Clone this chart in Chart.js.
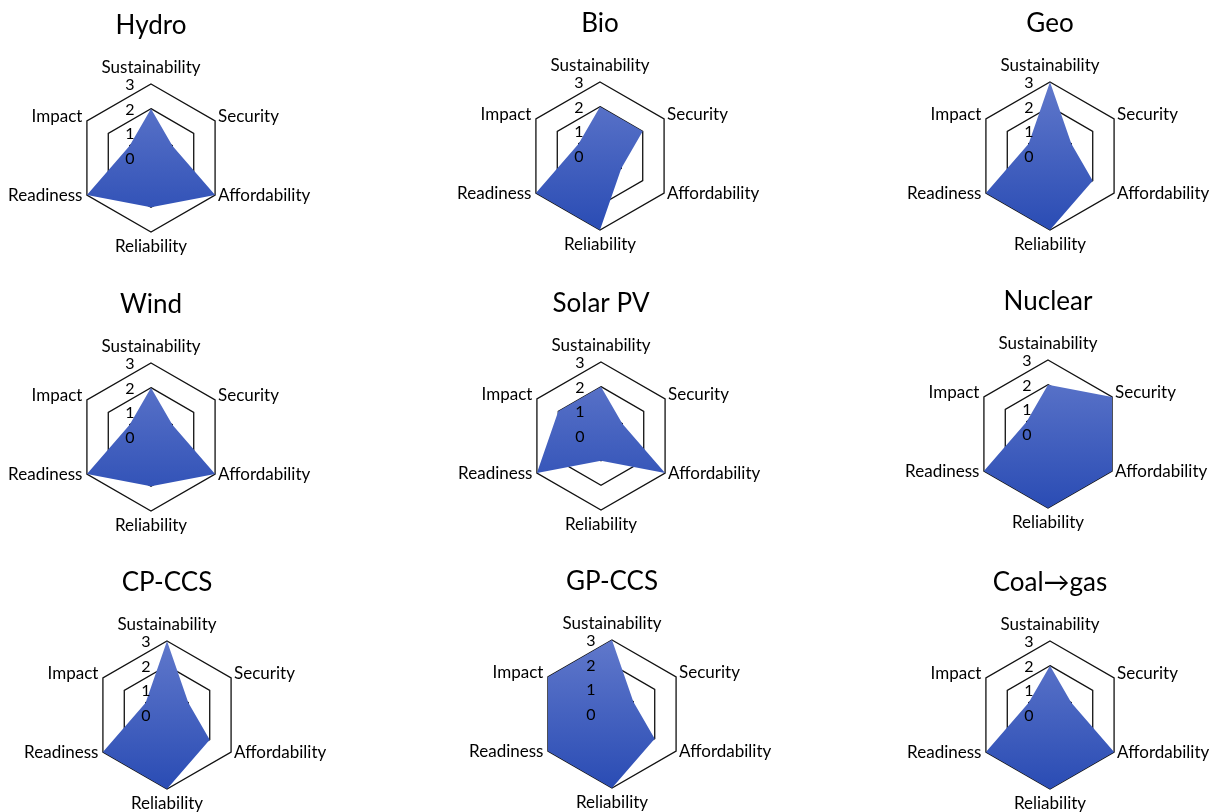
<!DOCTYPE html>
<html>
<head>
<meta charset="utf-8">
<title>Technology scorecards</title>
<script src="https://cdn.jsdelivr.net/npm/chart.js@4.4.1/dist/chart.umd.min.js"></script>
<style>
  html, body { margin: 0; padding: 0; background: #ffffff; }
  body { width: 1211px; height: 812px; position: relative; overflow: hidden; }
  canvas { position: absolute; }
</style>
</head>
<body>
<script>
// Scoring criteria, shared by every radar
const AXES = ['Sustainability', 'Security', 'Affordability', 'Reliability', 'Readiness', 'Impact'];
const TICK_VALUES = [0, 1, 2, 3];
const TICK_LABELS = ['0', '1', '2', '3'];

// Technologies and their scores (same order as AXES)
const TECHNOLOGIES = ['Hydro', 'Bio', 'Geo', 'Wind', 'Solar PV', 'Nuclear', 'CP-CCS', 'GP-CCS', 'Coal\u2192gas'];
const hydro    = [2, 1, 3, 2, 3, 1];
const bio      = [2, 2, 1, 3, 3, 1];
const geo      = [3, 1, 2, 3, 3, 1];
const wind     = [2, 1, 3, 2, 3, 1];
const solarPV  = [2, 1, 3, 1, 3, 2];
const nuclear  = [2, 3, 3, 3, 3, 1];
const cpCCS    = [3, 1, 2, 3, 3, 1];
const gpCCS    = [3, 1, 2, 3, 3, 3];
const coalToGas = [2, 1, 3, 3, 3, 1];
const SCORES = [hydro, bio, geo, wind, solarPV, nuclear, cpCCS, gpCCS, coalToGas];

// Page placement of each radar centre (3 x 3 grid)
const CENTERS = [
  [151, 158], [600, 156], [1050, 156],
  [151, 437], [601, 436], [1048, 434],
  [167, 715], [612, 714], [1050, 715]
];

const FONT = 'Lato, "Open Sans", "Noto Sans", sans-serif';
const CW = 380, CH = 262;      // canvas size
const OX = 190, OY = 150;      // radar centre inside the canvas
const R = 74;                  // radar radius

// Draws tick numbers left of the vertical axis and the criterion names
const labelPlugin = {
  id: 'radarLabels',
  afterDatasetsDraw(chart) {
    const s = chart.scales.r;
    const ctx = chart.ctx;
    ctx.save();
    ctx.fillStyle = '#000';
    ctx.font = '16px ' + FONT;
    ctx.textAlign = 'center';
    ctx.textBaseline = 'middle';
    TICK_VALUES.forEach((v, i) => {
      const d = s.getDistanceFromCenterForValue(v);
      ctx.fillText(TICK_LABELS[i], s.xCenter - 21, s.yCenter - d + 1);
    });
    ctx.font = '17px ' + FONT;
    ctx.textBaseline = 'alphabetic';
    AXES.forEach((name, i) => {
      const p = s.getPointPosition(i, s.drawingArea);
      let x = p.x, y = p.y;
      if (i === 0) { ctx.textAlign = 'center'; y -= 11; }
      else if (i === 1) { ctx.textAlign = 'left'; x += 3; y += 1; }
      else if (i === 2) { ctx.textAlign = 'left'; x += 3; y += 6; }
      else if (i === 3) { ctx.textAlign = 'center'; y += 20; }
      else if (i === 4) { ctx.textAlign = 'right'; x -= 4.5; y += 6; }
      else { ctx.textAlign = 'right'; x -= 4.5; y += 1; }
      ctx.fillText(name, x, y);
    });
    ctx.restore();
  }
};

function fillGradient(context) {
  const chart = context.chart;
  const s = chart.scales.r;
  if (!s || !chart.chartArea) return '#3f5fbf';
  const g = chart.ctx.createLinearGradient(0, s.yCenter - s.drawingArea, 0, s.yCenter + s.drawingArea);
  g.addColorStop(0, 'rgb(96,120,203)');
  g.addColorStop(1, 'rgb(42,76,180)');
  return g;
}

TECHNOLOGIES.forEach((tech, k) => {
  const [cx, cy] = CENTERS[k];
  const canvas = document.createElement('canvas');
  canvas.width = CW; canvas.height = CH;
  canvas.style.width = CW + 'px'; canvas.style.height = CH + 'px';
  canvas.style.left = (cx - OX) + 'px';
  canvas.style.top = (cy - OY) + 'px';
  document.body.appendChild(canvas);

  const titleCenter = OY - 132;
  new Chart(canvas, {
    type: 'radar',
    data: {
      labels: AXES,
      datasets: [{
        label: tech,
        data: SCORES[k],
        backgroundColor: fillGradient,
        borderWidth: 0,
        pointRadius: 0,
        pointHoverRadius: 0,
        fill: true
      }]
    },
    options: {
      responsive: false,
      animation: false,
      devicePixelRatio: 1,
      layout: {
        padding: { top: 0, bottom: CH - (OY + R), left: OX - R, right: CW - OX - R }
      },
      plugins: {
        legend: { display: false },
        tooltip: { enabled: false },
        title: {
          display: true,
          text: tech,
          color: '#000',
          font: { family: FONT, size: 26, weight: 'normal', lineHeight: 1.2 },
          padding: { top: titleCenter - 15.6, bottom: (OY - R) - (titleCenter - 15.6) - 31.2 }
        }
      },
      scales: {
        r: {
          min: 0,
          max: 3,
          ticks: { stepSize: 1, display: false },
          pointLabels: { display: false },
          angleLines: { display: false },
          grid: { color: '#111', lineWidth: 1.3 }
        }
      }
    },
    plugins: [labelPlugin]
  });
});
</script>
</body>
</html>
